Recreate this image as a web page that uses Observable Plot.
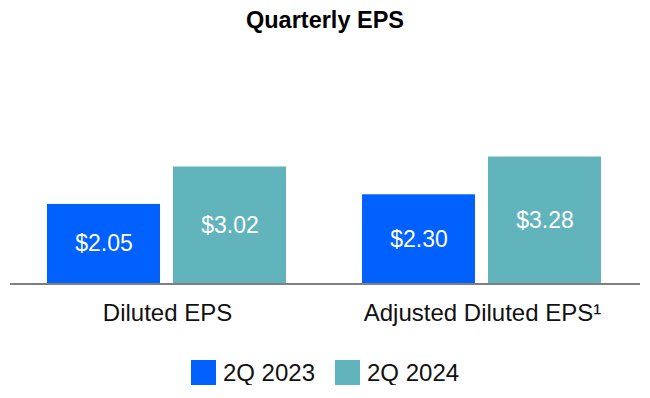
<!DOCTYPE html>
<html>
<head>
<meta charset="utf-8">
<script src="https://cdn.jsdelivr.net/npm/d3@7"></script>
<script src="https://cdn.jsdelivr.net/npm/@observablehq/plot@0.6"></script>
<style>
  body { margin: 0; background: #fff; font-family: "Liberation Sans", Arial, sans-serif; }
  #wrap { width: 650px; }
  #title { height: 40px; line-height: 40px; text-align: center; font-weight: bold; font-size: 23.5px; color: #000; }
  #legend { display: flex; justify-content: center; gap: 20px; margin-top: 20px; font-size: 24px; color: #111; height: 25px; }
  .item { display: flex; align-items: center; gap: 7px; height: 25px; line-height: 25px; }
  .sw { width: 25px; height: 25px; display: inline-block; }
</style>
</head>
<body>
<div id="wrap">
  <div id="title">Quarterly EPS</div>
  <div id="chart"></div>
  <div id="legend"></div>
</div>
<script>
const categories = ["Diluted EPS", "Adjusted Diluted EPS¹"];
const series = ["2Q 2023", "2Q 2024"];
const colors = ["#0061FE", "#61B4BB"];
const values2023 = [2.05, 2.30];
const values2024 = [3.02, 3.28];

const data = [];
categories.forEach((c, i) => {
  data.push({category: c, period: series[0], value: values2023[i]});
  data.push({category: c, period: series[1], value: values2024[i]});
});

const plot = Plot.plot({
  width: 650,
  height: 300,
  marginLeft: 10,
  marginRight: 10,
  marginTop: 108,
  marginBottom: 57,
  style: {fontFamily: "Liberation Sans, Arial, sans-serif", background: "#fff"},
  fx: {domain: categories, paddingInner: 0.238, paddingOuter: 0.119, label: null, axis: "bottom", tickSize: 0, tickPadding: 20},
  x: {domain: series, paddingInner: 0.1, paddingOuter: 0, axis: null},
  y: {domain: [0, 3.5], axis: null},
  color: {domain: series, range: colors},
  marks: [
    Plot.barY(data, {fx: "category", x: "period", y: "value", fill: "period"}),
    Plot.text(data, {fx: "category", x: "period", y: d => d.value / 2, text: d => "$" + d.value.toFixed(2), fill: "#fff", fontSize: 23})
  ]
});

d3.select(plot).selectAll("g[aria-label='fx-axis tick label'] text, g[aria-label='fx-axis tick label']")
  .attr("font-size", 24).attr("fill", "#111");

// baseline rule across full width, positioned via the y scale
const ys = plot.scale("y");
const fxs = plot.scale("fx");
const y0 = ys.apply(0);
d3.select(plot).append("line")
  .attr("x1", fxs.range[0]).attr("x2", fxs.range[1])
  .attr("y1", y0 + 1).attr("y2", y0 + 1)
  .attr("stroke", "#7f7f7f").attr("stroke-width", 2);

document.getElementById("chart").appendChild(plot);

const legend = document.getElementById("legend");
series.forEach((s, i) => {
  const item = document.createElement("div");
  item.className = "item";
  const sw = document.createElement("span");
  sw.className = "sw";
  sw.style.background = colors[i];
  const t = document.createElement("span");
  t.textContent = s;
  item.appendChild(sw);
  item.appendChild(t);
  legend.appendChild(item);
});
</script>
</body>
</html>
